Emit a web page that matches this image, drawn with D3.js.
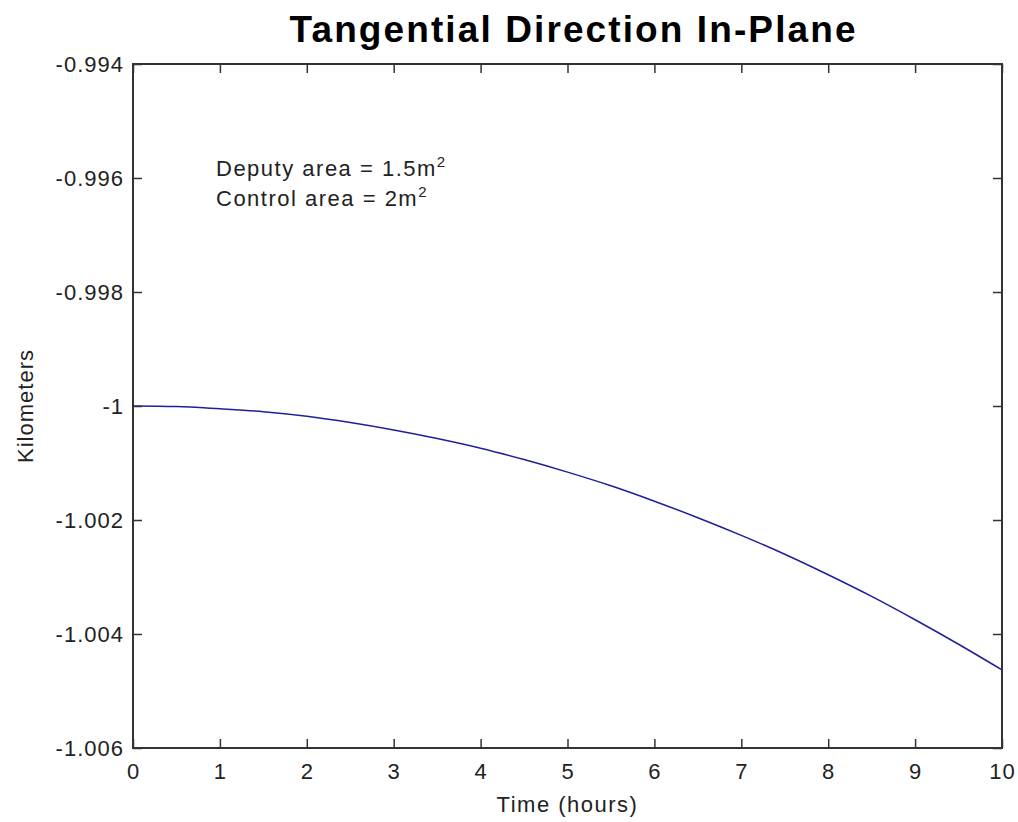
<!DOCTYPE html>
<html>
<head>
<meta charset="utf-8">
<script src="https://cdn.jsdelivr.net/npm/d3@7"></script>
<style>
  body { margin: 0; background: #fff; }
  svg { display: block; font-family: "Liberation Sans", Arial, sans-serif; }
</style>
</head>
<body>
<svg id="chart" width="1018" height="822"></svg>
<script>
// time in hours and tangential position in km
const hours = [0, 0.5, 1, 1.5, 2, 2.5, 3, 3.5, 4, 4.5, 5, 5.5, 6, 6.5, 7, 7.5, 8, 8.5, 9, 9.5, 10];
const km = [-1.00000, -1.00001, -1.00005, -1.00010, -1.00018, -1.00029, -1.00042, -1.00057,
  -1.00074, -1.00094, -1.00116, -1.00140, -1.00167, -1.00196, -1.00227, -1.00260,
  -1.00296, -1.00334, -1.00375, -1.00418, -1.00463];
const xTicks = [0, 1, 2, 3, 4, 5, 6, 7, 8, 9, 10];
const yTicks = [-0.994, -0.996, -0.998, -1, -1.002, -1.004, -1.006];
const notes = [["Deputy area = 1.5m", "2"], ["Control area = 2m", "2"]];

const m = {left: 133, right: 1002, top: 64, bottom: 748};
const tickLen = 9;

const svg = d3.select("#chart");

const x = d3.scaleLinear().domain([0, 10]).range([m.left, m.right]);
const y = d3.scaleLinear().domain([-1.006, -0.994]).range([m.bottom, m.top]);

// plain hyphen for the minus sign, like the original
const fmtY = d => (d === -1 ? "-1" : d3.format(".3f")(d)).replace("\u2212", "-");

// line first so the frame sits on top
const line = d3.line()
    .x((d, i) => x(hours[i]))
    .y(d => y(d))
    .curve(d3.curveMonotoneX);

svg.append("path")
    .datum(km)
    .attr("fill", "none")
    .attr("stroke", "#1f1f9c")
    .attr("stroke-width", 1.5)
    .attr("d", line);

// axes with inward ticks on all four sides
const axisStyle = g => {
  g.select(".domain").remove();
  g.selectAll("line").attr("stroke", "#333").attr("stroke-width", 1.5);
  g.selectAll("text")
      .attr("fill", "#222")
      .style("font-size", "22px")
      .style("letter-spacing", "1px");
};

svg.append("g")
    .attr("transform", `translate(0,${m.bottom})`)
    .call(d3.axisBottom(x).tickValues(xTicks).tickFormat(d3.format("d"))
      .tickSizeInner(-tickLen).tickSizeOuter(0).tickPadding(15))
    .call(axisStyle);

svg.append("g")
    .attr("transform", `translate(0,${m.top})`)
    .call(d3.axisTop(x).tickValues(xTicks).tickFormat("")
      .tickSizeInner(-tickLen).tickSizeOuter(0))
    .call(axisStyle);

svg.append("g")
    .attr("transform", `translate(${m.left},0)`)
    .call(d3.axisLeft(y).tickValues(yTicks).tickFormat(fmtY)
      .tickSizeInner(-tickLen).tickSizeOuter(0).tickPadding(9))
    .call(axisStyle);

svg.append("g")
    .attr("transform", `translate(${m.right},0)`)
    .call(d3.axisRight(y).tickValues(yTicks).tickFormat("")
      .tickSizeInner(-tickLen).tickSizeOuter(0))
    .call(axisStyle);

// box frame
svg.append("rect")
    .attr("x", m.left)
    .attr("y", m.top)
    .attr("width", m.right - m.left)
    .attr("height", m.bottom - m.top)
    .attr("fill", "none")
    .attr("stroke", "#333")
    .attr("stroke-width", 2);

// title
svg.append("text")
    .attr("x", (m.left + m.right) / 2 + 5)
    .attr("y", 42)
    .attr("text-anchor", "middle")
    .attr("textLength", 566)
    .attr("lengthAdjust", "spacing")
    .style("font-size", "37px")
    .style("font-weight", "bold")
    .attr("fill", "#000")
    .text("Tangential Direction In-Plane");

// axis labels
svg.append("text")
    .attr("x", (m.left + m.right) / 2)
    .attr("y", 812)
    .attr("text-anchor", "middle")
    .style("font-size", "22px")
    .style("letter-spacing", "1.5px")
    .attr("fill", "#222")
    .text("Time (hours)");

svg.append("text")
    .attr("transform", `translate(33,${(m.top + m.bottom) / 2}) rotate(-90)`)
    .attr("text-anchor", "middle")
    .style("font-size", "22px")
    .style("letter-spacing", "1px")
    .attr("fill", "#222")
    .text("Kilometers");

// annotation with superscripts
const note = svg.append("g");
notes.forEach((n, i) => {
  const t = note.append("text")
      .attr("x", 216)
      .attr("y", 176 + i * 30)
      .style("font-size", "22px")
      .style("letter-spacing", "1.5px")
      .attr("fill", "#222");
  t.append("tspan").text(n[0]);
  t.append("tspan")
      .attr("dy", -9)
      .style("font-size", "15px")
      .style("letter-spacing", "0px")
      .text(n[1]);
});
</script>
</body>
</html>
